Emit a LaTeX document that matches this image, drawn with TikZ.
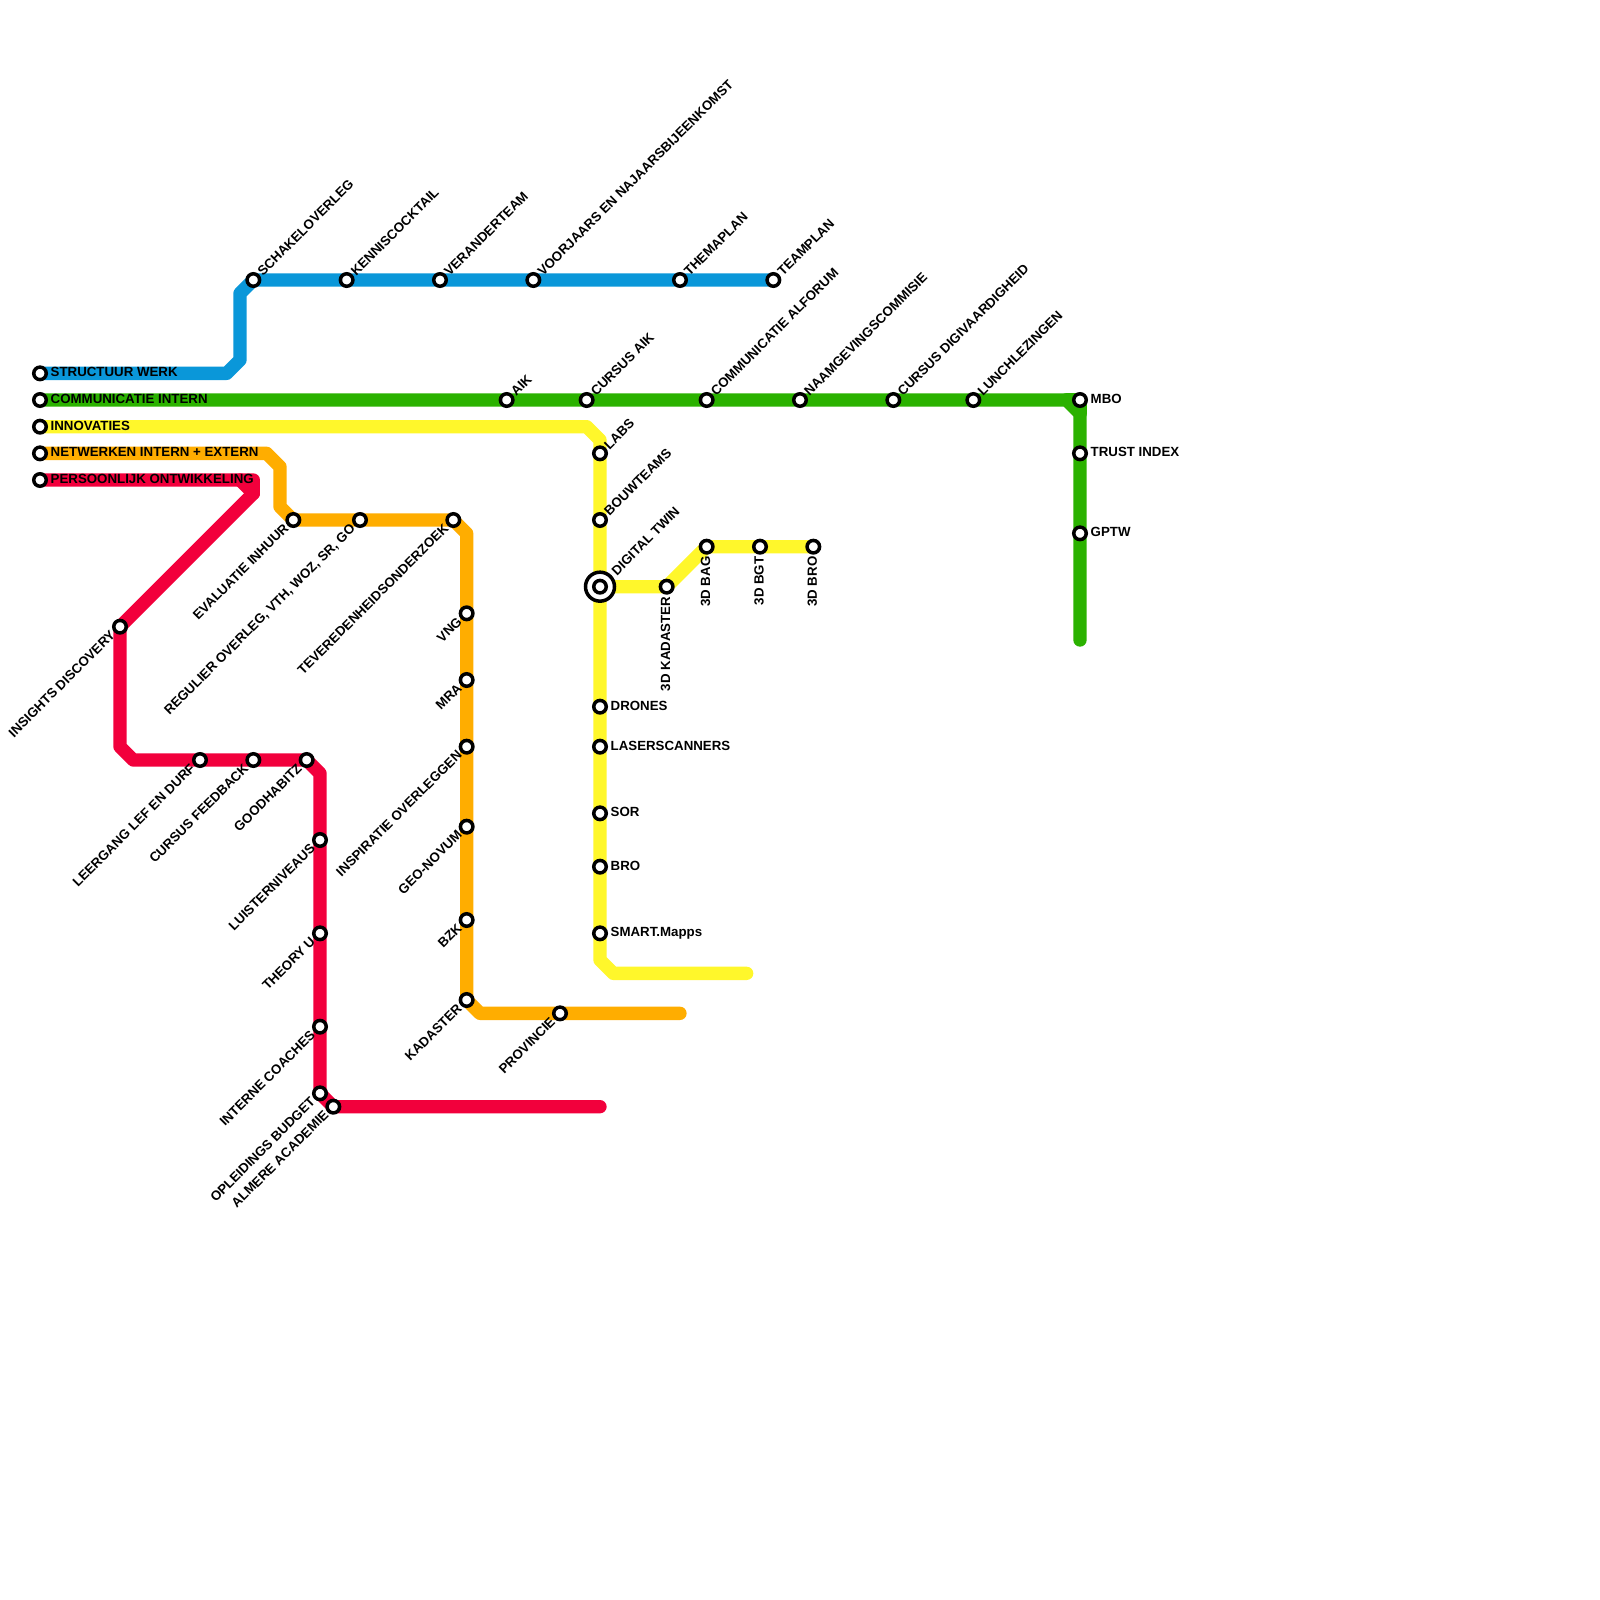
\documentclass[tikz,border=0pt]{standalone}
\usepackage{fontspec}
\setmainfont{Liberation Sans}
\pgfdeclarelayer{lines}
\pgfsetlayers{lines,main}
\definecolor{cblue}{HTML}{0A97D9}
\definecolor{cgreen}{HTML}{2BB200}
\definecolor{cyellow}{HTML}{FFF72B}
\definecolor{corange}{HTML}{FFAD00}
\definecolor{cred}{HTML}{F2003C}
\tikzset{
  stationnode/.style={circle,draw=black,fill=white,line width=0.035cm,minimum size=0.125cm,inner sep=0pt},
  ringnode/.style={circle,draw=black,fill=white,line width=0.035cm,minimum size=0.29cm,inner sep=0pt},
  metroline/.style={line width=0.1333cm,line cap=round,line join=round},
  lab/.style={inner sep=0pt,font=\fontsize{3.78pt}{4pt}\selectfont\bfseries,text height=0.1cm,text depth=0pt,text=black},
  labur/.style={lab,rotate=45,anchor=west,xshift=0.085cm,yshift=0.005cm},
  labdl/.style={lab,rotate=45,anchor=east,xshift=-0.088cm,yshift=0.012cm},
  labr/.style={lab,anchor=west,xshift=0.1cm,yshift=0.015cm},
  labv/.style={lab,rotate=90,anchor=east,xshift=-0.092cm,yshift=0.015cm},
}
\newcommand{\stat}[5]{%
  \node[stationnode] (#1) at (#2,#3) {};
  \node[#4] (#1l) at (#1.center) {#5};}
\begin{document}
\begin{tikzpicture}[x=0.13333cm,y=-0.13333cm]
\useasboundingbox (0,0) rectangle (120,120);
% blue
\stat{bt}{3}{28}{labr}{STRUCTUUR WERK}
\stat{ba}{19}{21}{labur}{SCHAKELOVERLEG}
\stat{bb}{26}{21}{labur}{KENNISCOCKTAIL}
\stat{bc}{33}{21}{labur}{VERANDERTEAM}
\stat{bd}{40}{21}{labur}{VOORJAARS EN NAJAARSBIJEENKOMST}
\stat{be}{51}{21}{labur}{THEMAPLAN}
\stat{bf}{58}{21}{labur}{TEAMPLAN}
% green
\stat{gt}{3}{30}{labr}{COMMUNICATIE INTERN}
\stat{ga}{38}{30}{labur}{AIK}
\stat{gb}{44}{30}{labur}{CURSUS AIK}
\stat{gc}{53}{30}{labur}{COMMUNICATIE ALFORUM}
\stat{gd}{60}{30}{labur}{NAAMGEVINGSCOMMISIE}
\stat{ge}{67}{30}{labur}{CURSUS DIGIVAARDIGHEID}
\stat{gf}{73}{30}{labur}{LUNCHLEZINGEN}
\stat{gg}{81}{30}{labr}{MBO}
\stat{gh}{81}{34}{labr}{TRUST INDEX}
\stat{gi}{81}{40}{labr}{GPTW}
% yellow
\stat{yt}{3}{32}{labr}{INNOVATIES}
\stat{ya}{45}{34}{labur}{LABS}
\stat{yb}{45}{39}{labur}{BOUWTEAMS}
\node[ringnode] (yc) at (45,44) {};
\node[stationnode] (ycc) at (yc.center) {};
\node[labur,xshift=0.104cm] (ycl) at (yc.center) {DIGITAL TWIN};
\stat{yd}{45}{53}{labr}{DRONES}
\stat{ye}{45}{56}{labr}{LASERSCANNERS}
\stat{yf}{45}{61}{labr}{SOR}
\stat{yg}{45}{65}{labr}{BRO}
\stat{yh}{45}{70}{labr}{SMART.Mapps}
\stat{yi}{50}{44}{labv}{3D KADASTER}
\stat{yj}{53}{41}{labv}{3D BAG}
\stat{yk}{57}{41}{labv}{3D BGT}
\stat{yl}{61}{41}{labv}{3D BRO}
% orange
\stat{ot}{3}{34}{labr}{NETWERKEN INTERN + EXTERN}
\stat{oa}{22}{39}{labdl}{EVALUATIE INHUUR}
\stat{ob}{27}{39}{labdl}{REGULIER OVERLEG, VTH, WOZ, SR, GO}
\stat{oc}{34}{39}{labdl}{TEVEREDENHEIDSONDERZOEK}
\stat{od}{35}{46}{labdl}{VNG}
\stat{oe}{35}{51}{labdl}{MRA}
\stat{of}{35}{56}{labdl}{INSPIRATIE OVERLEGGEN}
\stat{og}{35}{62}{labdl}{GEO-NOVUM}
\stat{oh}{35}{69}{labdl}{BZK}
\stat{oi}{35}{75}{labdl}{KADASTER}
\stat{oj}{42}{76}{labdl}{PROVINCIE}
% red
\stat{rt}{3}{36}{labr}{PERSOONLIJK ONTWIKKELING}
\stat{ra}{9}{47}{labdl}{INSIGHTS DISCOVERY}
\stat{rb}{15}{57}{labdl}{LEERGANG LEF EN DURF}
\stat{rc}{19}{57}{labdl}{CURSUS FEEDBACK}
\stat{rd}{23}{57}{labdl}{GOODHABITZ}
\stat{re}{24}{63}{labdl}{LUISTERNIVEAUS}
\stat{rf}{24}{70}{labdl}{THEORY U}
\stat{rg}{24}{77}{labdl}{INTERNE COACHES}
\stat{rh}{24}{82}{labdl}{OPLEIDINGS BUDGET}
\stat{ri}{25}{83}{labdl}{ALMERE ACADEMIE}
% free ends and bends
\coordinate (b1) at (17,28); \coordinate (b2) at (18,27); \coordinate (b3) at (18,22);
\coordinate (g1) at (80,30); \coordinate (g2) at (81,31); \coordinate (g3) at (81,48);
\coordinate (y1) at (44,32); \coordinate (y2) at (45,33); \coordinate (y3) at (45,72);
\coordinate (y4) at (46,73); \coordinate (y5) at (56,73);
\coordinate (o1) at (20,34); \coordinate (o2) at (21,35); \coordinate (o3) at (21,38);
\coordinate (o4) at (35,40); \coordinate (o5) at (36,76); \coordinate (o6) at (51,76);
\coordinate (r1) at (18,36); \coordinate (r2) at (19,36); \coordinate (r3) at (19,37);
\coordinate (r4) at (9,56); \coordinate (r5) at (10,57); \coordinate (r6) at (24,58);
\coordinate (r7) at (45,83);
\begin{pgfonlayer}{lines}
\fill[white] (0,0) rectangle (120,120);
\draw[metroline,cblue] (bt.center) -- (b1) -- (b2) -- (b3) -- (ba.center) -- (bf.center);
\draw[metroline,cgreen] (gt.center) -- (g1) -- (g2) -- (g3);
\draw[metroline,cgreen] (g1) -- (gg.center) -- (g2);
\draw[metroline,cyellow] (yt.center) -- (y1) -- (y2) -- (y3) -- (y4) -- (y5);
\draw[metroline,cyellow] (yc.center) -- (yi.center) -- (yj.center) -- (yl.center);
\draw[metroline,corange] (ot.center) -- (o1) -- (o2) -- (o3) -- (oa.center) -- (oc.center) -- (o4) -- (oi.center) -- (o5) -- (o6);
\draw[metroline,cred] (rt.center) -- (r1) -- (r2) -- (r3) -- (ra.center) -- (r4) -- (r5) -- (rd.center) -- (r6) -- (rh.center) -- (ri.center) -- (r7);
\draw[metroline,cred] (r1) -- (r3);
\end{pgfonlayer}
\end{tikzpicture}
\end{document}
